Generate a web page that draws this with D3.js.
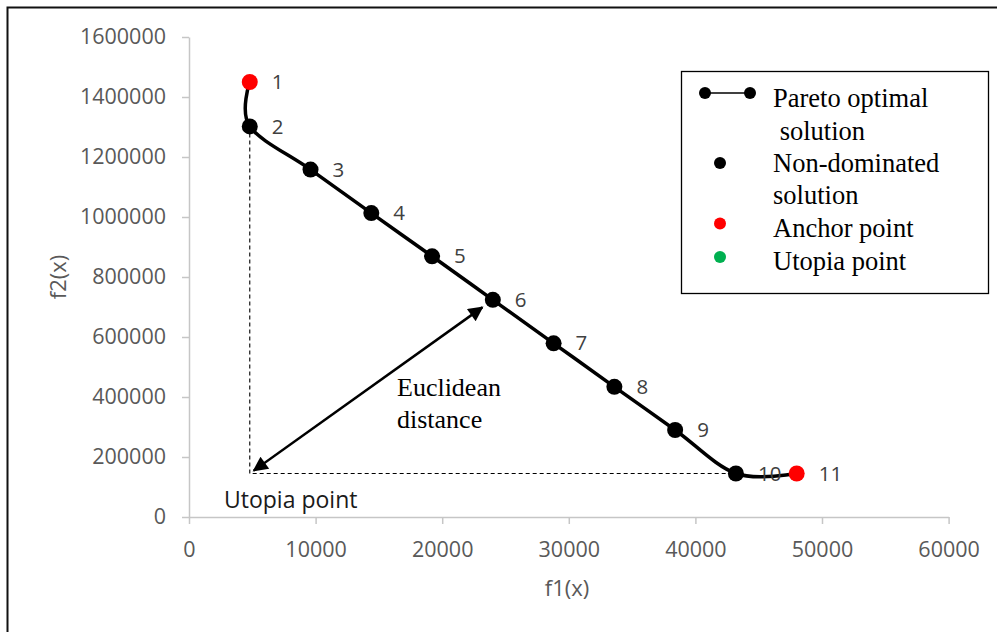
<!DOCTYPE html>
<html>
<head>
<meta charset="utf-8">
<script src="https://cdn.jsdelivr.net/npm/d3@7"></script>
<style>
  body { margin: 0; background: #fff; }
  .axis text { font-family: "Open Sans", sans-serif; font-size: 21.5px; fill: #595959; }
  .axis path, .axis line { stroke: #c6c6c6; stroke-width: 1.5; }
</style>
</head>
<body>
<script>
// pareto front points
var pointIds = ["1", "2", "3", "4", "5", "6", "7", "8", "9", "10", "11"];
var f1Values = [4800, 4800, 9600, 14400, 19200, 24000, 28800, 33600, 38400, 43200, 48000];
var f2Values = [1450000, 1302000, 1158000, 1013000, 869000, 724000, 579000, 434000, 290000, 145000, 145000];
var pointKinds = ["anchor", "nd", "nd", "nd", "nd", "nd", "nd", "nd", "nd", "nd", "anchor"];
var utopiaPoint = [4800, 145000];

var xTicks = [0, 10000, 20000, 30000, 40000, 50000, 60000];
var yTicks = [0, 200000, 400000, 600000, 800000, 1000000, 1200000, 1400000, 1600000];

var legendLabels = [["Pareto optimal", " solution"], ["Non-dominated", "solution"], ["Anchor point"], ["Utopia point"]];
var legendKinds = ["line", "nd", "anchor", "utopia"];

var colors = { nd: "#000000", anchor: "#ff0000", utopia: "#00b050" };

var svg = d3.select("body").append("svg").attr("width", 997).attr("height", 632);

// frame (only left and top edges show)
svg.append("path")
    .attr("d", "M7.5,632 L7.5,7.5 L997,7.5")
    .attr("fill", "none").attr("stroke", "#111").attr("stroke-width", 2);

var x = d3.scaleLinear().domain([0, 60000]).range([189, 948.6]);
var y = d3.scaleLinear().domain([0, 1600000]).range([517, 37]);

svg.append("g")
    .attr("class", "axis")
    .attr("transform", "translate(0,517)")
    .call(d3.axisBottom(x).tickValues(xTicks).tickFormat(d3.format("d")).tickSize(7).tickSizeOuter(0).tickPadding(18));

svg.append("g")
    .attr("class", "axis")
    .attr("transform", "translate(189,0)")
    .call(d3.axisLeft(y).tickValues(yTicks).tickFormat(d3.format("d")).tickSize(7).tickSizeOuter(0).tickPadding(16));

svg.append("text")
    .attr("x", 567).attr("y", 596)
    .attr("text-anchor", "middle")
    .style("font-family", "Open Sans").style("font-size", "22px").style("fill", "#595959")
    .text("f1(x)");

svg.append("text")
    .attr("transform", "translate(66,277) rotate(-90)")
    .attr("text-anchor", "middle")
    .style("font-family", "Open Sans").style("font-size", "22px").style("fill", "#595959")
    .text("f2(x)");

var pts = f1Values.map(function(v, i) {
  return { id: pointIds[i], f1: v, f2: f2Values[i], kind: pointKinds[i] };
});

// dashed guides through the utopia point
var ux = x(utopiaPoint[0]), uy = y(utopiaPoint[1]);
svg.append("path")
    .attr("d", "M" + x(pts[1].f1) + "," + y(pts[1].f2) + " L" + ux + "," + uy + " L" + x(pts[9].f1) + "," + y(pts[9].f2))
    .attr("fill", "none").attr("stroke", "#000").attr("stroke-width", 1.1)
    .attr("stroke-dasharray", "4,3");

// smoothed line like excel
var line = d3.line()
    .x(function(d) { return x(d.f1); })
    .y(function(d) { return y(d.f2); })
    .curve(d3.curveCardinal.tension(0));

svg.append("path")
    .datum(pts)
    .attr("d", line)
    .attr("fill", "none").attr("stroke", "#000").attr("stroke-width", 3.5);

svg.selectAll(".pt")
    .data(pts)
  .enter().append("circle")
    .attr("class", "pt")
    .attr("cx", function(d) { return x(d.f1); })
    .attr("cy", function(d) { return y(d.f2); })
    .attr("r", 8)
    .attr("fill", function(d) { return colors[d.kind]; });

svg.selectAll(".pt-label")
    .data(pts)
  .enter().append("text")
    .attr("class", "pt-label")
    .attr("x", function(d) { return x(d.f1) + 22; })
    .attr("y", function(d) { return y(d.f2); })
    .attr("dy", "0.35em")
    .style("font-family", "Open Sans").style("font-size", "20.5px").style("fill", "#404040")
    .text(function(d) { return d.id; });

// euclidean distance arrow
svg.append("defs").append("marker")
    .attr("id", "head")
    .attr("viewBox", "0 0 10 10")
    .attr("refX", 9).attr("refY", 5)
    .attr("markerUnits", "userSpaceOnUse")
    .attr("markerWidth", 19).attr("markerHeight", 15)
    .attr("orient", "auto-start-reverse")
  .append("path")
    .attr("d", "M0,0 L10,5 L0,10 z")
    .attr("fill", "#000");

var tx = x(pts[5].f1), ty = y(pts[5].f2);
var len = Math.sqrt((tx - ux) * (tx - ux) + (ty - uy) * (ty - uy));
var dx = (tx - ux) / len, dy = (ty - uy) / len;
svg.append("line")
    .attr("x1", ux + dx * 5).attr("y1", uy + dy * 5)
    .attr("x2", tx - dx * 13).attr("y2", ty - dy * 13)
    .attr("stroke", "#000").attr("stroke-width", 2.5)
    .attr("marker-start", "url(#head)")
    .attr("marker-end", "url(#head)");

svg.append("text")
    .attr("x", 397).attr("y", 396)
    .style("font-family", "Liberation Serif").style("font-size", "26px").style("fill", "#000")
    .text("Euclidean");
svg.append("text")
    .attr("x", 397).attr("y", 428)
    .style("font-family", "Liberation Serif").style("font-size", "26px").style("fill", "#000")
    .text("distance");

svg.append("text")
    .attr("x", 224).attr("y", 508)
    .style("font-family", "Open Sans").style("font-size", "23px").style("fill", "#1a1a1a")
    .text("Utopia point");

// legend
var legend = svg.append("g");
legend.append("rect")
    .attr("x", 681.5).attr("y", 71.5).attr("width", 307).attr("height", 222)
    .attr("fill", "#fff").attr("stroke", "#000").attr("stroke-width", 1.3);

var rowY = [107, 171.5, 236.5, 270];
legendLabels.forEach(function(lines, i) {
  var t = legend.append("text")
      .attr("x", 773).attr("y", rowY[i])
      .style("font-family", "Liberation Serif").style("font-size", "26.5px").style("fill", "#000")
      .style("white-space", "pre");
  lines.forEach(function(s, j) {
    t.append("tspan").attr("x", 773).attr("y", rowY[i] + j * 32.5).text(s);
  });

  var k = legendKinds[i];
  var my = rowY[i] - 13;
  if (k == "line") {
    legend.append("line").attr("x1", 705).attr("x2", 750).attr("y1", 93).attr("y2", 93)
        .attr("stroke", "#000").attr("stroke-width", 1.3);
    legend.append("circle").attr("cx", 705).attr("cy", 93).attr("r", 6).attr("fill", "#000");
    legend.append("circle").attr("cx", 750).attr("cy", 93).attr("r", 6).attr("fill", "#000");
  } else {
    legend.append("circle").attr("cx", 720).attr("cy", k == "nd" ? 163 : my).attr("r", 6)
        .attr("fill", colors[k]);
  }
});
</script>
</body>
</html>
